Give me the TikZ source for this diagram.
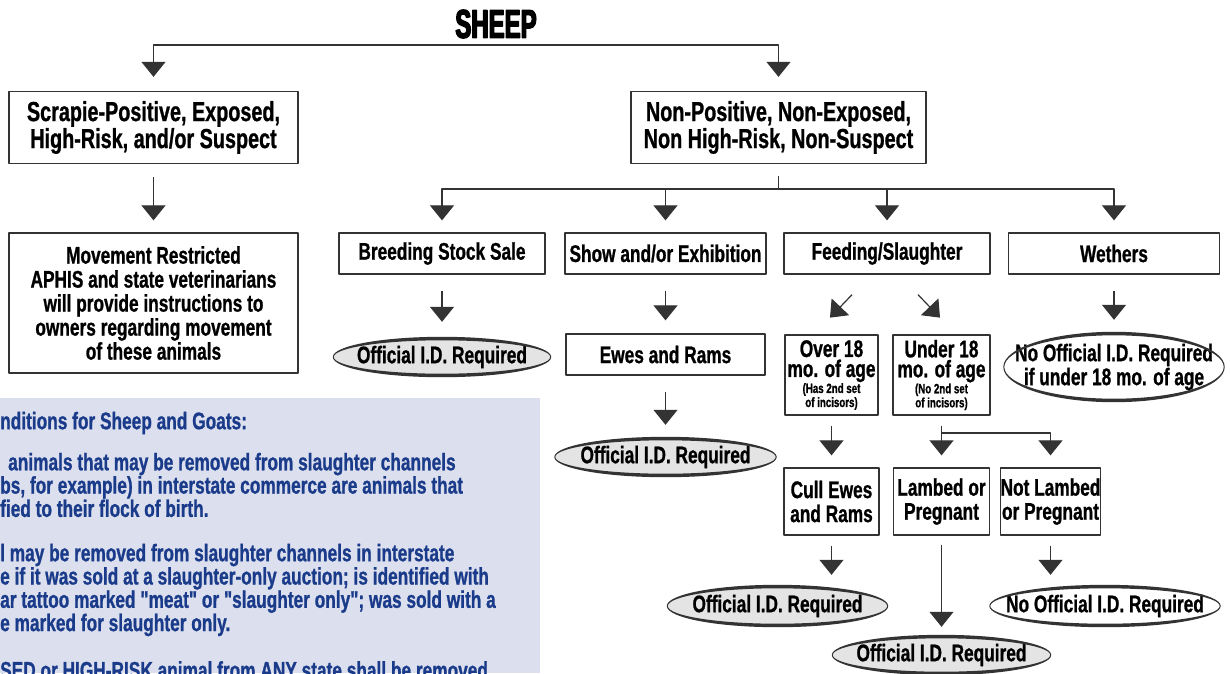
\documentclass[tikz,border=0pt]{standalone}
\usepackage{fontspec}
\setmainfont{Liberation Sans}[Ligatures=TeXOff,FakeStretch=0.72,FakeBold=0.9]
\newfontfamily\sheepfont{Liberation Sans}[FakeStretch=0.6,FakeBold=3.5]
\usetikzlibrary{arrows.meta,shapes.geometric,calc}
\definecolor{linegray}{HTML}{333333}
\definecolor{ovalgray}{HTML}{E4E4E4}
\definecolor{infofill}{HTML}{DCDFEE}
\definecolor{infoblue}{HTML}{1A3B8A}
\newcommand{\ovalring}[1]{%
  \fill[linegray, even odd rule] let \p0=(#1.center), \p1=(#1.east), \p2=(#1.north) in
    (\p0) ellipse ({\x1-\x0} and {\y2-\y0})
    (\p0) ellipse ({\x1-\x0-1pt} and {\y2-\y0-3.5pt});}
\begin{document}
\begin{tikzpicture}[x=1pt, y=-1pt, line join=round, >={Triangle[width=24pt,length=15pt]},
  font=\fontsize{24}{24}\selectfont\bfseries,
  box/.style={draw=linegray, line width=1.3pt, fill=white, inner sep=0pt, align=center},
  bigbox/.style={box, font=\fontsize{27.5}{27}\selectfont\bfseries},
  oval/.style={ellipse, fill=ovalgray, inner xsep=-16pt, inner ysep=0pt, align=center},
  conn/.style={draw=linegray, line width=1.2pt},
  arr/.style={conn, ->, shorten >=12pt},
  note/.style={anchor=west, inner sep=0pt, text=infoblue, align=left, font=\fontsize{24}{23.3}\selectfont\bfseries}]
  \useasboundingbox (0,0) rectangle (1230,673);
  \clip (0,0) rectangle (1230,673);
  % conditions panel
  \fill[infofill] (0,398) rectangle (540,673);
  \node[note] (c0) at (0,423) {nditions for Sheep and Goats:};
  \node[note] (c1) at (0,485) {\hspace*{8pt}animals that may be removed from slaughter channels\\bs, for example) in interstate commerce are animals that\\fied to their flock of birth.};
  \node[note] (c2) at (0,590) {l may be removed from slaughter channels in interstate\\e if it was sold at a slaughter-only auction; is identified with\\ar tattoo marked "meat" or "slaughter only"; was sold with a\\e marked for slaughter only.};
  \node[note] (c3) at (0,670) {SED or HIGH-RISK animal from ANY state shall be removed};

  \node[font=\sheepfont\bfseries\fontsize{40}{40}\selectfont] (title) at (496,24) {SHEEP};
  \node[bigbox, minimum width=289, minimum height=72] (pos) at (153.5,127.5) {Scrapie-Positive, Exposed,\\High-Risk, and/or Suspect};
  \node[bigbox, minimum width=295, minimum height=72] (neg) at (778.5,127.5) {Non-Positive, Non-Exposed,\\Non High-Risk, Non-Suspect};
  \node[box, minimum width=289, minimum height=140] (move) at (153.5,303) {Movement Restricted\\APHIS and state veterinarians\\will provide instructions to\\owners regarding movement\\of these animals};
  \node[box, minimum width=206, minimum height=41] (breed) at (442,253.5) {Breeding Stock Sale};
  \node[box, minimum width=201, minimum height=41] (show) at (665.5,253.5) {Show and/or Exhibition};
  \node[box, minimum width=206, minimum height=41] (feed) at (887,253.5) {Feeding/Slaughter};
  \node[box, minimum width=211, minimum height=41] (weth) at (1114,253.5) {Wethers};
  \node[oval, minimum width=218, minimum height=40] (id1) at (442,357) {Official I.D. Required};
  \node[box, minimum width=199, minimum height=41] (ewes) at (665.5,354.5) {Ewes and Rams};
  \node[box, minimum width=93, minimum height=80] (over) at (831.5,375) {Over 18\\[-4pt]mo. of age\\[-8pt]{\fontsize{13.5}{13.5}\selectfont (Has 2nd set}\\[-10pt]{\fontsize{13.5}{13.5}\selectfont of incisors)}};
  \node[box, minimum width=97, minimum height=80] (under) at (941.5,375) {Under 18\\[-4pt]mo. of age\\[-8pt]{\fontsize{13.5}{13.5}\selectfont (No 2nd set}\\[-10pt]{\fontsize{13.5}{13.5}\selectfont of incisors)}};
  \node[oval, fill=white, inner xsep=-24pt, minimum width=221, minimum height=70] (noid1) at (1114,367) {No Official I.D. Required\\if under 18 mo. of age};
  \node[oval, minimum width=222, minimum height=40] (id2) at (665.5,457) {Official I.D. Required};
  \node[box, minimum width=95, minimum height=67] (cull) at (831.5,501.5) {Cull Ewes\\and Rams};
  \node[box, minimum width=96, minimum height=67] (lamb) at (941.5,501.5) {Lambed or\\Pregnant};
  \node[box, minimum width=97, minimum height=67] (notl) at (1050.5,501.5) {Not Lambed\\or Pregnant};
  \node[oval, minimum width=221, minimum height=42] (id3) at (777.5,606) {Official I.D. Required};
  \node[oval, minimum width=219, minimum height=40] (id4) at (941.5,655) {Official I.D. Required};
  \node[oval, fill=white, inner xsep=-20pt, minimum width=231, minimum height=42] (noid2) at (1105,606) {No Official I.D. Required};
  \foreach \o in {id1,id2,id3,id4,noid1,noid2} {\ovalring{\o}}

  % connectors
  \coordinate (bar) at (496,45);
  \draw[arr, shorten >=14pt] (bar) -| (pos.north);
  \draw[arr, shorten >=14pt] (bar) -| (neg.north);
  \draw[arr, shorten <=13pt] (pos) -- (move);
  \coordinate (hub) at (778.5,189);
  \draw[conn] ([yshift=-12pt]neg.south) -- (hub);
  \foreach \n in {breed,show,feed,weth} \draw[arr] (hub) -| (\n.north);
  \draw[arr, shorten <=16pt, shorten >=15pt] (breed) -- (id1);
  \draw[arr, shorten <=16pt, shorten >=13pt] (show) -- (ewes);
  \draw[arr, shorten <=16pt, shorten >=12pt] (weth) -- (noid1);
  \draw[arr, shorten <=16pt, shorten >=12pt] (ewes) -- (id2);
  \draw[arr, shorten >=0pt] (feed.south) ++(-35,20) -- ++(-22,23);
  \draw[arr, shorten >=0pt] (feed.south) ++(31,20) -- ++(22,23);
  \draw[arr, shorten <=10pt] (over) -- (cull);
  \coordinate (ub) at (941.5,433);
  \draw[conn] ([yshift=-10pt]under.south) -- (ub);
  \draw[arr] (ub) -- (lamb);
  \draw[arr] (ub) -| (notl.north);
  \draw[arr, shorten <=10pt, shorten >=10pt] (cull) -- (cull |- id3.north);
  \draw[arr, shorten <=9pt, shorten >=8pt] (lamb) -- (id4);
  \draw[arr, shorten <=10pt, shorten >=10pt] (notl) -- (notl |- noid2.north);
\end{tikzpicture}
\end{document}
